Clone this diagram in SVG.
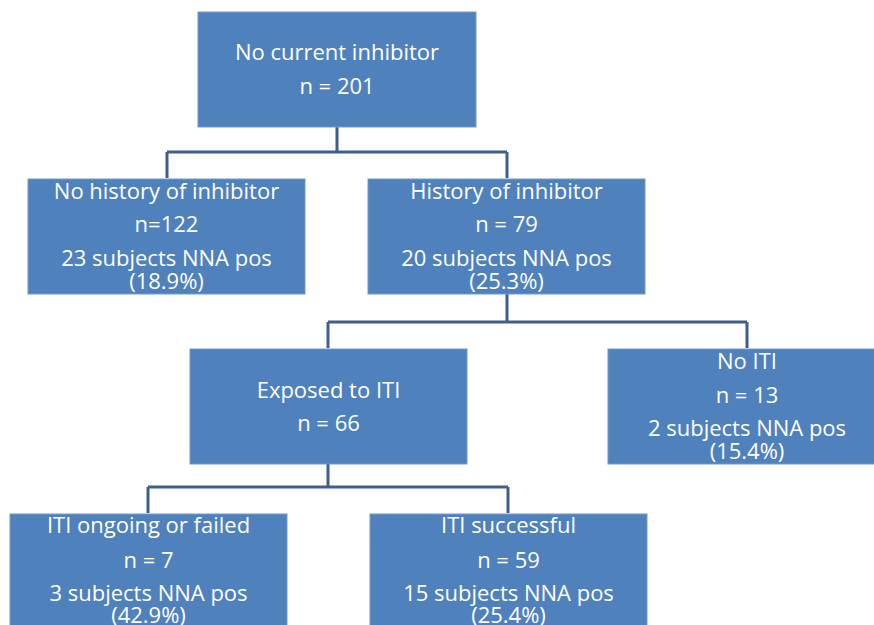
<svg xmlns="http://www.w3.org/2000/svg" width="874" height="625" viewBox="0 0 874 625">
<style>
.box{fill:#4F81BD;stroke:#7199CB;stroke-width:1}
.t{font-family:"Open Sans","Liberation Sans",sans-serif;font-size:22px;fill:#FFFFFF;text-anchor:middle}
.c{fill:none;stroke:#3D5F8C;stroke-width:3}
</style>
<rect width="874" height="625" fill="#FFFFFF"/>
<g id="connectors">
<path class="c" d="M337 127V152M167 152H507M167 152V178M507 152V178"/>
<path class="c" d="M507 294V322M328 322H747M328 322V348M747 322V348"/>
<path class="c" d="M328 464V487M148 487H508M148 487V513M508 487V513"/>
</g>
<g id="n1">
<rect class="box" x="198" y="12" width="278" height="115"/>
<text class="t" x="337" y="60">No current inhibitor</text>
<text class="t" x="337" y="94">n = 201</text>
</g>
<g id="n2">
<rect class="box" x="28" y="179" width="277" height="115"/>
<text class="t" x="166.5" y="199">No history of inhibitor</text>
<text class="t" x="166.5" y="232">n=122</text>
<text class="t" x="166.5" y="266">23 subjects NNA pos</text>
<text class="t" x="166.5" y="289">(18.9%)</text>
</g>
<g id="n3">
<rect class="box" x="368" y="179" width="277" height="115"/>
<text class="t" x="506.5" y="199">History of inhibitor</text>
<text class="t" x="506.5" y="232">n = 79</text>
<text class="t" x="506.5" y="266">20 subjects NNA pos</text>
<text class="t" x="506.5" y="289">(25.3%)</text>
</g>
<g id="n4">
<rect class="box" x="190" y="349" width="277" height="115"/>
<text class="t" x="328.5" y="398">Exposed to ITI</text>
<text class="t" x="328.5" y="431">n = 66</text>
</g>
<g id="n5">
<rect class="box" x="608" y="349" width="280" height="115"/>
<text class="t" x="747" y="369">No ITI</text>
<text class="t" x="747" y="403">n = 13</text>
<text class="t" x="747" y="436">2 subjects NNA pos</text>
<text class="t" x="747" y="459">(15.4%)</text>
</g>
<g id="n6">
<rect class="box" x="10" y="514" width="277" height="120"/>
<text class="t" x="148.5" y="533">ITI ongoing or failed</text>
<text class="t" x="148.5" y="568">n = 7</text>
<text class="t" x="148.5" y="601">3 subjects NNA pos</text>
<text class="t" x="148.5" y="623">(42.9%)</text>
</g>
<g id="n7">
<rect class="box" x="370" y="514" width="277" height="120"/>
<text class="t" x="508.5" y="533">ITI successful</text>
<text class="t" x="508.5" y="568">n = 59</text>
<text class="t" x="508.5" y="601">15 subjects NNA pos</text>
<text class="t" x="508.5" y="623">(25.4%)</text>
</g>
</svg>
